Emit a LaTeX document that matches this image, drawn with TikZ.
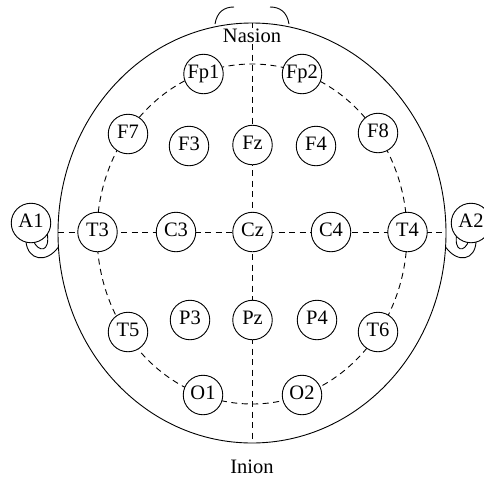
\documentclass[tikz,border=0pt]{standalone}
\usepackage{fontspec}
\setmainfont{Liberation Serif}
\begin{document}
\begin{tikzpicture}[x=1pt,y=-1pt,
  outline/.style={line width=0.9pt},
  guide/.style={line width=0.9pt,dash pattern=on 6pt off 4.5pt},
  electrode/.style={circle,draw,line width=0.9pt,fill=white,minimum size=39.5pt,inner sep=0pt,
    text height=13.5pt,text depth=4pt,font=\fontsize{20.5}{23}\selectfont},
  landmark/.style={fill=white,inner sep=1pt,font=\fontsize{20.5}{23}\selectfont}]
\useasboundingbox (0,0) rectangle (484,482);
% head and guides
\draw[outline] (252,233) ellipse [x radius=194pt, y radius=210pt];
\coordinate (htop) at (252,23);
\coordinate (hbot) at (252,443);
\coordinate (hleft) at (58,232);
\coordinate (hright) at (446,232);
\draw[guide] (htop) -- (hbot);
\draw[guide] (hleft) -- (hright);
\draw[guide] (252,234) ellipse [x radius=155pt, y radius=170pt];
% nose
\draw[outline] (215,24) .. controls (217,12) and (224,7) .. (234,7);
\draw[outline] (270,7) .. controls (280,7) and (287,12) .. (289,24);
% ears
\draw[outline] (26,242) .. controls (28,260) and (46,264) .. (58.5,247);
\draw[outline] (33,240) .. controls (38,253) and (51,253) .. (47,232);
\begin{scope}[xshift=504pt,xscale=-1]
\draw[outline] (28,242) .. controls (29,260) and (46,264) .. (58.5,247);
\draw[outline] (35,240) .. controls (39,253) and (51,253) .. (47,232);
\end{scope}
\node[electrode] (A1) at (31,223) {A1};
\node[electrode] (A2) at (471,223) {A2};
% labels
\node[landmark] (nasion) at (252,36) {Nasion};
\node[landmark,fill=none] (inion) at (252,467) {Inion};
% electrodes
\node[electrode] (Fp1) at (203.5,74) {Fp1};
\node[electrode] (Fp2) at (302,74) {Fp2};
\node[electrode] (F7) at (128,134) {F7};
\node[electrode] (F3) at (189,146) {F3};
\node[electrode] (Fz) at (252.5,145) {Fz};
\node[electrode] (F4) at (316,146) {F4};
\node[electrode] (F8) at (378,133) {F8};
\node[electrode] (T3) at (97.5,232) {T3};
\node[electrode] (C3) at (176,232) {C3};
\node[electrode] (Cz) at (252.5,232) {Cz};
\node[electrode] (C4) at (331,232) {C4};
\node[electrode] (T4) at (407.5,232) {T4};
\node[electrode] (T5) at (128,332) {T5};
\node[electrode] (P3) at (190,320) {P3};
\node[electrode] (Pz) at (252.5,320) {Pz};
\node[electrode] (P4) at (317,320) {P4};
\node[electrode] (T6) at (378,332) {T6};
\node[electrode] (O1) at (203,395) {O1};
\node[electrode] (O2) at (302,395) {O2};
\end{tikzpicture}
\end{document}
